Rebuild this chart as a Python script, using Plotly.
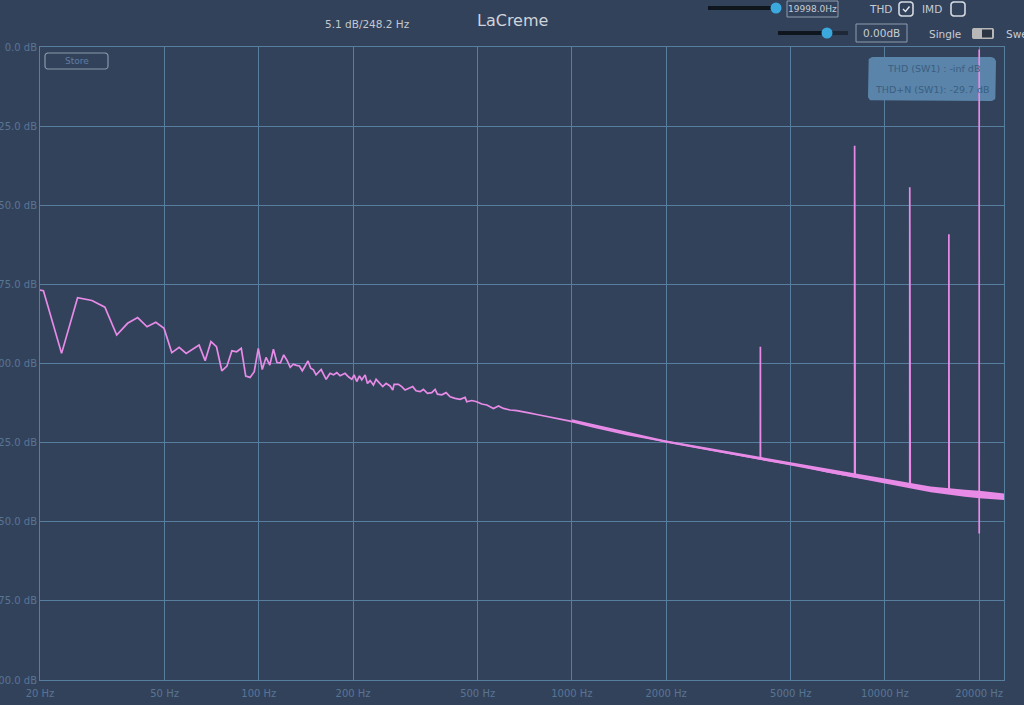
import math
import plotly.graph_objects as go

# ---------------- data ----------------
# low-frequency FFT bins (Hz) and levels (dB)
low_freq_hz = [17.58, 20.51, 23.44, 26.37, 29.30, 32.23, 35.16, 38.09, 41.02, 43.95,
               46.88, 49.80, 52.73, 55.66, 58.59, 61.52, 64.45, 67.38, 70.31, 73.24,
               76.17, 79.10, 82.03, 84.96, 87.89, 90.82, 93.75, 96.68, 99.61, 102.54,
               105.47, 108.40, 111.33, 114.26, 117.19, 120.12, 123.05, 125.98, 128.91, 131.84,
               134.77, 137.70, 140.63, 143.55, 146.48, 149.41, 152.34, 155.27, 158.20, 161.13,
               164.06, 166.99]
low_db = [-76.0, -77.0, -96.8, -79.2, -80.1, -82.2, -91.0, -87.3, -85.5, -88.4,
          -87.0, -88.9, -96.6, -94.9, -96.8, -95.5, -94.2, -99.1, -93.1, -94.7,
          -102.3, -100.8, -96.0, -96.3, -95.2, -104.0, -104.4, -102.6, -95.2, -101.9,
          -98.1, -100.5, -95.5, -99.7, -99.8, -97.3, -99.0, -101.2, -100.2, -100.6,
          -100.8, -102.3, -100.5, -99.2, -101.5, -102.0, -103.6, -102.6, -101.9, -103.5,
          -105.0, -103.8]

mid_freq_hz = [168.9, 173.1, 177.4, 181.8, 188.6, 193.3, 198.1, 201.5, 205.5, 209.6,
               213.2, 218.5, 222.3, 226.7, 232.3, 236.9, 242.8, 248.8, 255.0, 262.6,
               267.8, 270.4, 279.2, 286.1, 293.2, 300.5, 310.2, 317.9, 327.4, 335.5,
               345.6, 356.8, 365.6, 371.9, 384.0, 396.5, 408.3, 423.6, 439.4, 455.9,
               461.5, 478.8, 496.7, 515.3, 534.8, 561.6, 582.7, 604.5, 634.9, 666.8,
               700.3, 735.5, 772.5, 811.3, 852.1, 895.0, 940.0, 987.2]
mid_db = [-103.1, -103.6, -102.9, -103.9, -103.1, -104.2, -105.0, -103.6, -105.7, -103.9,
          -105.2, -103.6, -106.3, -105.4, -106.8, -105.0, -106.3, -107.3, -106.3, -107.1,
          -108.4, -106.6, -106.6, -107.3, -108.4, -107.8, -107.3, -108.6, -108.9, -108.2,
          -109.4, -109.2, -108.2, -109.7, -109.9, -109.2, -110.5, -111.0, -111.3, -110.7,
          -112.1, -111.7, -112.1, -112.8, -113.1, -114.2, -113.4, -114.2, -114.7, -114.9,
          -115.4, -115.7, -116.1, -116.5, -116.8, -117.3, -117.8, -118.2]

high_freq_hz = [1172, 1498, 2010, 2765, 3993, 5360, 6523, 8034, 10094, 12043,
                13950, 16040, 20147, 23926, 24000]
high_db = [-120.0, -122.4, -124.7, -127.3, -130.2, -132.3, -134.2, -135.8, -137.3, -138.4,
           -139.8, -140.5, -141.5, -142.1, -142.1]

# noise band envelope at high frequencies
band_freq_hz = [1000, 2000, 5000, 10000, 14000, 18000, 20000, 24000]
band_upper_db = [-117.6, -124.3, -131.2, -136.5, -138.9, -139.9, -140.2, -141.1]
band_lower_db = [-118.4, -125.0, -132.2, -137.9, -140.7, -142.1, -142.6, -143.1]

# harmonic / tone spikes
spike_freq_hz = [4000, 8000, 12000, 16000, 19998]
spike_top_db = [-94.7, -31.2, -44.3, -59.2, -0.8]
spike_base_db = [-130.2, -135.8, -138.4, -140.5, -141.4]
spike_floor_db = [-130.2, -135.8, -138.4, -140.5, -153.7]

x_tick_hz = [20, 50, 100, 200, 500, 1000, 2000, 5000, 10000, 20000]
x_tick_text = ["20 Hz", "50 Hz", "100 Hz", "200 Hz", "500 Hz", "1000 Hz",
               "2000 Hz", "5000 Hz", "10000 Hz", "20000 Hz"]
y_tick_db = [0, -25, -50, -75, -100, -125, -150, -175, -200]
y_tick_text = ["0.0 dB", "-25.0 dB", "-50.0 dB", "-75.0 dB", "-100.0 dB",
               "-125.0 dB", "-150.0 dB", "-175.0 dB", "-200.0 dB"]

# ---------------- build the series ----------------
pts = list(zip(low_freq_hz, low_db)) + list(zip(mid_freq_hz, mid_db)) + list(zip(high_freq_hz, high_db))
for f, top, base, floor in zip(spike_freq_hz, spike_top_db, spike_base_db, spike_floor_db):
    pts += [(f - 1.5, base), (f, top), (f + 1.5, floor), (f + 3.0, base)]
pts.sort(key=lambda p: p[0])
xs = [p[0] for p in pts]
ys = [p[1] for p in pts]

BG = "#33425b"
GRID = "#587e9f"
TICK = "#587595"
PINK = "#e78be7"
FONT = "DejaVu Sans"

L, R, T, B = 40, 1004, 47, 680
XLOG0, XLOG1 = math.log10(20), math.log10(24000)
Y0, Y1 = -200, 0


def px(x):
    return (x - L) / (R - L)


def py(y):
    return (B - y) / (B - T)


def rr_points(x0, y0, x1, y1, r, n=6):
    """pixel outline of a rounded rectangle"""
    out = []
    corners = [(x1 - r, y0 + r, -90, 0), (x1 - r, y1 - r, 0, 90),
               (x0 + r, y1 - r, 90, 180), (x0 + r, y0 + r, 180, 270)]
    for cx, cy, a0, a1 in corners:
        for i in range(n + 1):
            a = math.radians(a0 + (a1 - a0) * i / n)
            out.append((cx + r * math.cos(a), cy + r * math.sin(a)))
    out.append(out[0])
    return out


def rrect(x0, y0, x1, y1, r):
    p = rr_points(x0, y0, x1, y1, r)
    return "M " + " L ".join(f"{px(a)},{py(b)}" for a, b in p) + " Z"


fig = go.Figure()

# results box, drawn as a filled trace so that it sits above the grid but below the spectrum
box = rr_points(868, 57, 996, 101, 5)
box_x = [10 ** (XLOG0 + px(a) * (XLOG1 - XLOG0)) for a, b in box]
box_y = [Y0 + py(b) * (Y1 - Y0) for a, b in box]
fig.add_trace(go.Scatter(x=box_x, y=box_y, mode="lines", fill="toself", fillcolor="#5a84a9",
                         line=dict(width=0, color="#5a84a9"), hoverinfo="skip", showlegend=False))

fig.add_trace(go.Scatter(x=band_freq_hz, y=band_upper_db, mode="lines",
                         line=dict(width=0, color=PINK), hoverinfo="skip", showlegend=False))
fig.add_trace(go.Scatter(x=band_freq_hz, y=band_lower_db, mode="lines", fill="tonexty",
                         fillcolor=PINK, line=dict(width=0, color=PINK),
                         hoverinfo="skip", showlegend=False))
fig.add_trace(go.Scatter(x=xs, y=ys, mode="lines", line=dict(color=PINK, width=1.7),
                         showlegend=False))

shapes = []
# Store button
shapes.append(dict(type="path", xref="paper", yref="paper", path=rrect(45, 53, 108, 69, 3),
                   line=dict(color="#8797aa", width=1.2)))
# slider 1
shapes.append(dict(type="line", xref="paper", yref="paper", x0=px(708), x1=px(776), y0=py(8), y1=py(8),
                   line=dict(color="#0f151d", width=4)))
shapes.append(dict(type="circle", xref="paper", yref="paper", x0=px(770.5), x1=px(781.5),
                   y0=py(2.5), y1=py(13.5), fillcolor="#3ba9de", line=dict(width=0)))
# box 19998.0Hz
shapes.append(dict(type="rect", xref="paper", yref="paper", x0=px(787), x1=px(838), y0=py(1), y1=py(17),
                   line=dict(color="#8e9cae", width=1)))
# checkboxes
shapes.append(dict(type="path", xref="paper", yref="paper", path=rrect(899, 2, 913, 16, 3),
                   line=dict(color="#d4d9e0", width=1.6)))
shapes.append(dict(type="path", xref="paper", yref="paper",
                   path=f"M {px(903)},{py(9)} L {px(905.5)},{py(11.5)} L {px(909.5)},{py(6.5)}",
                   line=dict(color="#e6e9ee", width=1.4)))
shapes.append(dict(type="path", xref="paper", yref="paper", path=rrect(951, 2, 965, 16, 3),
                   line=dict(color="#d4d9e0", width=1.6)))
# slider 2
shapes.append(dict(type="line", xref="paper", yref="paper", x0=px(778), x1=px(827), y0=py(33), y1=py(33),
                   line=dict(color="#0f151d", width=4)))
shapes.append(dict(type="line", xref="paper", yref="paper", x0=px(827), x1=px(848), y0=py(33), y1=py(33),
                   line=dict(color="#1e2836", width=4)))
shapes.append(dict(type="circle", xref="paper", yref="paper", x0=px(821.5), x1=px(832.5),
                   y0=py(27.5), y1=py(38.5), fillcolor="#3ba9de", line=dict(width=0)))
# box 0.00dB
shapes.append(dict(type="rect", xref="paper", yref="paper", x0=px(856), x1=px(907), y0=py(24), y1=py(42),
                   line=dict(color="#8e9cae", width=1)))
# toggle
shapes.append(dict(type="path", xref="paper", yref="paper", path=rrect(972, 28, 994, 39, 2),
                   fillcolor="#b8b8b8", line=dict(width=0)))
shapes.append(dict(type="rect", xref="paper", yref="paper", x0=px(982), x1=px(992), y0=py(29.5), y1=py(37.5),
                   fillcolor="#2b3544", line=dict(width=0)))

annotations = []


def txt(x, y, s, size, color, anchor="center"):
    annotations.append(dict(xref="paper", yref="paper", x=px(x), y=py(y), text=s, showarrow=False,
                            xanchor=anchor, yanchor="middle",
                            font=dict(family=FONT, size=size, color=color)))


txt(367, 24, "5.1 dB/248.2 Hz", 10.5, "#c4c9d1")
txt(512, 21, "LaCreme", 16, "#cfd3da")
txt(812.5, 9, "19998.0Hz", 9, "#c6ccd4")
txt(880, 9, "THD", 10.5, "#c6ccd4")
txt(932, 9, "IMD", 10.5, "#c6ccd4")
txt(881.5, 33, "0.00dB", 10.5, "#c6ccd4")
txt(945, 34, "Single", 10.5, "#c6ccd4")
txt(1004, 34, "Swe", 10.5, "#c6ccd4", anchor="left")
txt(76.5, 61, "Store", 9, "#5d7fa3")
txt(933, 68, "THD (SW1) : -inf dB", 9.5, "#3b5e82")
txt(932, 90, "THD+N (SW1): -29.7 dB", 9.5, "#3b5e82")

fig.update_layout(
    width=1024, height=705,
    margin=dict(l=L, r=1024 - R, t=T, b=705 - B, pad=0, autoexpand=False),
    paper_bgcolor=BG, plot_bgcolor=BG,
    font=dict(family=FONT, size=10, color=TICK),
    shapes=shapes, annotations=annotations,
    showlegend=False,
    xaxis=dict(type="log", range=[XLOG0, XLOG1], tickvals=x_tick_hz, ticktext=x_tick_text,
               showgrid=True, gridcolor=GRID, gridwidth=1, zeroline=False, automargin=False,
               showline=True, linecolor=GRID, linewidth=1, mirror=True,
               ticks="", tickfont=dict(size=10, color=TICK), ticklabelstandoff=4),
    yaxis=dict(range=[Y0, Y1], tickvals=y_tick_db, ticktext=y_tick_text,
               showgrid=True, gridcolor=GRID, gridwidth=1, zeroline=False, automargin=False,
               showline=True, linecolor=GRID, linewidth=1, mirror=True,
               ticks="", tickfont=dict(size=10, color=TICK)),
)

fig.write_html("out.html", config={"displayModeBar": False},
               post_script="document.body.style.margin='0';document.body.style.overflow='hidden';")
